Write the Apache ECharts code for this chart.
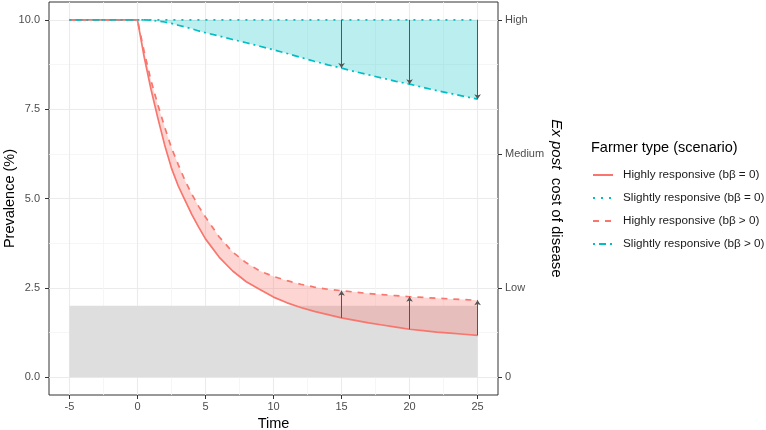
<!DOCTYPE html>
<html><head><meta charset="utf-8">
<script src="https://cdn.jsdelivr.net/npm/echarts@6/dist/echarts.min.js"></script>
<style>html,body{margin:0;padding:0;background:#fff}#c{width:766px;height:430px}</style>
</head><body><div id="c"></div>
<script>
// ---- data ----
const times = [-5, 0, 0.5, 1, 1.5, 2, 2.5, 3, 3.5, 4, 4.5, 5, 6, 7, 8, 9, 10, 11, 12, 13, 14, 15, 16, 17, 18, 19, 20, 21, 22, 23, 24, 25];
const highNoFeedback  = [10, 10, 8.95, 8.05, 7.25, 6.5, 5.85, 5.35, 4.95, 4.55, 4.2, 3.87, 3.36, 2.97, 2.67, 2.45, 2.24, 2.08, 1.95, 1.84, 1.75, 1.66, 1.59, 1.52, 1.46, 1.40, 1.34, 1.30, 1.26, 1.23, 1.20, 1.17];
const slightNoFeedback = [10, 10, 10, 10, 10, 10, 10, 10, 10, 10, 10, 10, 10, 10, 10, 10, 10, 10, 10, 10, 10, 10, 10, 10, 10, 10, 10, 10, 10, 10, 10, 10];
const highFeedback    = [10, 10, 9.1, 8.3, 7.62, 7.0, 6.42, 5.95, 5.5, 5.12, 4.78, 4.48, 3.93, 3.5, 3.2, 2.97, 2.82, 2.70, 2.60, 2.52, 2.46, 2.42, 2.38, 2.34, 2.31, 2.28, 2.25, 2.23, 2.21, 2.19, 2.17, 2.15];
const slightFeedback  = [10, 10, 10, 9.99, 9.97, 9.94, 9.9, 9.85, 9.8, 9.75, 9.69, 9.64, 9.55, 9.45, 9.36, 9.26, 9.16, 9.06, 8.95, 8.84, 8.74, 8.65, 8.55, 8.46, 8.37, 8.28, 8.20, 8.11, 8.02, 7.94, 7.86, 7.78];
const arrowTimes = [15, 20, 25];
const bandX = [-5, 25];
const bandY = [0, 2];
const xTicks = [-5, 0, 5, 10, 15, 20, 25];
const xMinor = [-2.5, 2.5, 7.5, 12.5, 17.5, 22.5];
const yTicks = [0, 2.5, 5, 7.5, 10];
const yMinor = [1.25, 3.75, 6.25, 8.75];
const costTicks = [0, 2.5, 6.25, 10];
const costLabels = ['0', 'Low', 'Medium', 'High'];
const seriesNames = ['Highly responsive (bβ = 0)', 'Slightly responsive (bβ = 0)', 'Highly responsive (bβ > 0)', 'Slightly responsive (bβ > 0)'];

// ---- helpers ----
const RED = '#F8766D', CYAN = '#00BFC4';
const pts = ys => times.map((t, i) => [t, ys[i]]);
const at = (arr, t) => arr[times.indexOf(t)];
const FONT = 'Liberation Sans';

const arrowData = [];
arrowTimes.forEach(t => {
  arrowData.push([{coord: [t, at(slightNoFeedback, t)]}, {coord: [t, at(slightFeedback, t)]}]);
  arrowData.push([{coord: [t, at(highNoFeedback, t)]}, {coord: [t, at(highFeedback, t)]}]);
});

function ribbon(upper, lower, fill, z) {
  return {
    type: 'custom', silent: true, z: z, data: [[0, 0]], clip: true,
    renderItem: (params, api) => {
      const top = times.map((t, i) => api.coord([t, upper[i]]));
      const bot = times.map((t, i) => api.coord([t, lower[i]])).reverse();
      return {type: 'polygon', shape: {points: top.concat(bot)}, style: {fill: fill}};
    }
  };
}
const bandSeries = {
  type: 'custom', silent: true, z: 1, data: [[0, 0]],
  renderItem: (params, api) => {
    const p = [api.coord([bandX[0], bandY[0]]), api.coord([bandX[1], bandY[0]]),
               api.coord([bandX[1], bandY[1]]), api.coord([bandX[0], bandY[1]])];
    return {type: 'polygon', shape: {points: p}, style: {fill: '#dedede'}};
  }
};

const chart = echarts.init(document.getElementById('c'), null, {renderer: 'canvas'});
chart.setOption({
  animation: false,
  textStyle: {fontFamily: FONT},
  title: {
    text: 'Farmer type (scenario)', left: 591, top: 140, padding: 0,
    textStyle: {fontFamily: FONT, fontSize: 14.5, fontWeight: 'normal', color: '#000'}
  },
  legend: {
    data: seriesNames, orient: 'vertical', left: 592, top: 169, padding: 0,
    itemWidth: 20, itemHeight: 14, itemGap: 11, selectedMode: false,
    itemStyle: {opacity: 0, borderWidth: 0},
    textStyle: {fontFamily: FONT, fontSize: 11.7, color: '#1a1a1a', padding: [1, 0, 1, 5]}
  },
  grid: {left: 49, right: 268, top: 2, bottom: 35, show: true, borderColor: '#333', borderWidth: 1,
    backgroundColor: 'transparent', containLabel: false, outerBoundsMode: 'none'},
  xAxis: [{
    type: 'value', min: -6.5, max: 26.5, position: 'bottom',
    axisLine: {show: false, onZero: false},
    axisTick: {show: true, customValues: xTicks, length: 4, lineStyle: {color: '#333'}},
    axisLabel: {customValues: xTicks, color: '#4d4d4d', fontSize: 11, margin: 6, fontFamily: FONT},
    splitLine: {show: true, lineStyle: {color: '#ebebeb', width: 1.1}},
    name: 'Time', nameLocation: 'middle', nameGap: 21, nameMoveOverlap: false,
    nameTextStyle: {fontSize: 14.5, color: '#000', fontFamily: FONT}
  }, {
    type: 'value', min: -6.5, max: 26.5, position: 'top',
    axisLine: {show: false, onZero: false},
    axisTick: {show: false, customValues: xMinor},
    axisLabel: {show: false, customValues: xMinor},
    splitLine: {show: true, lineStyle: {color: '#f4f4f4', width: 0.8}}
  }],
  yAxis: [{
    type: 'value', min: -0.5, max: 10.5, position: 'left',
    axisLine: {show: false, onZero: false},
    axisTick: {show: true, customValues: yTicks, length: 4, lineStyle: {color: '#333'}},
    axisLabel: {customValues: yTicks, color: '#4d4d4d', fontSize: 11, margin: 9, fontFamily: FONT,
      formatter: v => Number(v).toFixed(1)},
    splitLine: {show: true, lineStyle: {color: '#ebebeb', width: 1.1}},
    name: 'Prevalence (%)', nameLocation: 'middle', nameGap: 32, nameRotate: 90, nameMoveOverlap: false,
    nameTextStyle: {fontSize: 14.5, color: '#000', fontFamily: FONT}
  }, {
    type: 'value', min: -0.5, max: 10.5, position: 'right',
    axisLine: {show: false, onZero: false},
    axisTick: {show: true, customValues: costTicks, length: 4, lineStyle: {color: '#333'}},
    axisLabel: {customValues: costTicks, color: '#4d4d4d', fontSize: 11, margin: 7, fontFamily: FONT,
      formatter: v => costLabels[costTicks.indexOf(Number(v))] ?? ''},
    splitLine: {show: false},
    name: '{i|Ex post}  cost of disease', nameLocation: 'middle', nameGap: 51, nameRotate: -90, nameMoveOverlap: false,
    nameTextStyle: {fontSize: 15, color: '#000', fontFamily: FONT,
      rich: {i: {fontStyle: 'italic', fontSize: 15, color: '#000', fontFamily: FONT}}}
  }, {
    type: 'value', min: -0.5, max: 10.5, position: 'left', offset: 0,
    axisLine: {show: false, onZero: false},
    axisTick: {show: false, customValues: yMinor},
    axisLabel: {show: false, customValues: yMinor},
    splitLine: {show: true, lineStyle: {color: '#f4f4f4', width: 0.8}}
  }],
  series: [
    bandSeries,
    ribbon(slightNoFeedback, slightFeedback, 'rgba(0,191,196,0.27)', 2),
    ribbon(highFeedback, highNoFeedback, 'rgba(248,118,109,0.3)', 2),
    {type: 'line', name: seriesNames[0], data: pts(highNoFeedback), symbol: 'none', z: 3, color: RED,
      lineStyle: {color: RED, width: 1.7, type: 'solid'}},
    {type: 'line', name: seriesNames[1], data: pts(slightNoFeedback), symbol: 'none', z: 3, color: CYAN,
      lineStyle: {color: CYAN, width: 1.7, type: [2, 6], cap: 'butt'}},
    {type: 'line', name: seriesNames[2], data: pts(highFeedback), symbol: 'none', z: 3, color: RED,
      lineStyle: {color: RED, width: 1.7, type: [6, 6], cap: 'butt'}},
    {type: 'line', name: seriesNames[3], data: pts(slightFeedback), symbol: 'none', z: 3, color: CYAN,
      lineStyle: {color: CYAN, width: 1.7, type: [2, 4, 7, 4], cap: 'butt'}},
    {type: 'line', name: 'arrows', data: [], z: 4, symbol: 'none', silent: true,
      markLine: {silent: true, symbol: ['none', 'arrow'], symbolSize: 5, label: {show: false},
        lineStyle: {color: '#555', width: 1, type: 'solid', opacity: 1},
        emphasis: {disabled: true}, data: arrowData}}
  ]
});
</script>
</body></html>
